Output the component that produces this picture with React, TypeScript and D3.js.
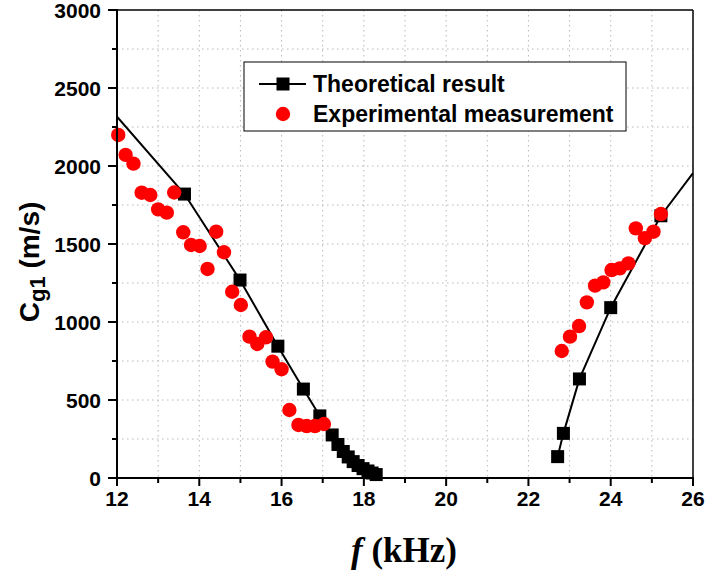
import React from "react";
import * as d3 from "d3";

// Theoretical result, left branch (line-start point at f = 12 carries no marker)
const theoryLeftF = [12, 13.64, 14.99, 15.91, 16.53, 16.93, 17.23, 17.37, 17.5, 17.62, 17.74, 17.86, 17.98, 18.1, 18.2, 18.3];
const theoryLeftV = [2316, 1820, 1269, 845, 570, 398, 276, 215, 170, 135, 105, 80, 60, 45, 32, 22];
// Theoretical result, right branch (line-end point at f = 26 carries no marker)
const theoryRightF = [22.71, 22.85, 23.24, 24.0, 25.22, 26];
const theoryRightV = [137, 286, 635, 1092, 1681, 1955];

// Experimental measurement
const expF = [12.03, 12.21, 12.4, 12.6, 12.81, 13.0, 13.21, 13.39, 13.61, 13.8, 14.01, 14.2, 14.41, 14.6, 14.8, 15.01, 15.22, 15.41, 15.62, 15.78, 16.0, 16.19, 16.41, 16.61, 16.81, 17.03,
  22.81, 23.01, 23.23, 23.42, 23.62, 23.82, 24.02, 24.22, 24.43, 24.61, 24.83, 25.04, 25.22];
const expV = [2199, 2071, 2015, 1829, 1814, 1722, 1701, 1830, 1575, 1494, 1487, 1340, 1579, 1447, 1194, 1109, 906, 859, 902, 746, 697, 436, 340, 333, 333, 346,
  814, 906, 974, 1126, 1233, 1254, 1333, 1344, 1376, 1600, 1537, 1579, 1692];

const xMajorTicks = [12, 14, 16, 18, 20, 22, 24, 26];
const xMinorTicks = [13, 15, 17, 19, 21, 23, 25];
const yMajorTicks = [0, 500, 1000, 1500, 2000, 2500, 3000];
const yMinorTicks = [250, 750, 1250, 1750, 2250, 2750];

const legendLabels = ["Theoretical result", "Experimental measurement"];

const W = 707, H = 577;
const L = 117, R = 693, T = 10, B = 478;

export default function App() {
  const x = d3.scaleLinear().domain([12, 26]).range([L, R]);
  const y = d3.scaleLinear().domain([0, 3000]).range([B, T]);
  const line = d3.line<[number, number]>().x(d => x(d[0])).y(d => y(d[1]));
  const left: [number, number][] = theoryLeftF.map((f, i) => [f, theoryLeftV[i]]);
  const right: [number, number][] = theoryRightF.map((f, i) => [f, theoryRightV[i]]);
  const isEdge = (f: number) => f <= 12 || f >= 26;
  const sq = 13;
  const font = "'Liberation Sans', Arial, sans-serif";
  const gridX = [...xMajorTicks, ...xMinorTicks].filter(v => v > 12 && v < 26);
  const gridY = [...yMajorTicks, ...yMinorTicks].filter(v => v > 0 && v < 3000);

  return (
    <svg width={W} height={H} style={{ position: "absolute", left: 0, top: 0, background: "#fff" }}>
      <defs>
        <clipPath id="plotclip">
          <rect x={L} y={T} width={R - L} height={B - T} />
        </clipPath>
      </defs>
      {/* grid */}
      {gridX.map(v => (
        <line key={"gx" + v} x1={x(v)} x2={x(v)} y1={T} y2={B} stroke="#b8b8b8" strokeWidth={1} strokeDasharray="1.5,3.5" />
      ))}
      {gridY.map(v => (
        <line key={"gy" + v} x1={L} x2={R} y1={y(v)} y2={y(v)} stroke="#b8b8b8" strokeWidth={1} strokeDasharray="1.5,3.5" />
      ))}
      {/* theory lines */}
      <g clipPath="url(#plotclip)">
        <path d={line(left) || ""} fill="none" stroke="#000" strokeWidth={2} />
        <path d={line(right) || ""} fill="none" stroke="#000" strokeWidth={2} />
      </g>
      {[...left, ...right].filter(d => !isEdge(d[0])).map((d, i) => (
        <rect key={"s" + i} x={x(d[0]) - sq / 2} y={y(d[1]) - sq / 2} width={sq} height={sq} fill="#000" />
      ))}
      {/* experimental */}
      {expF.map((f, i) => (
        <circle key={"c" + i} cx={x(f)} cy={y(expV[i])} r={7.2} fill="#ff0000" />
      ))}
      {/* frame */}
      <line x1={L} x2={R} y1={T} y2={T} stroke="#000" strokeWidth={1.5} />
      <line x1={R} x2={R} y1={T} y2={B} stroke="#000" strokeWidth={1.5} />
      <line x1={L} x2={L} y1={T - 1} y2={B + 1} stroke="#000" strokeWidth={2} />
      <line x1={L - 1} x2={R + 1} y1={B} y2={B} stroke="#000" strokeWidth={2} />
      {/* ticks */}
      {xMajorTicks.map(v => (
        <g key={"xt" + v}>
          <line x1={x(v)} x2={x(v)} y1={B} y2={B + 8} stroke="#000" strokeWidth={2} />
          <text x={x(v)} y={506} textAnchor="middle" fontFamily={font} fontWeight="bold" fontSize={21}>{v}</text>
        </g>
      ))}
      {xMinorTicks.map(v => (
        <line key={"xm" + v} x1={x(v)} x2={x(v)} y1={B} y2={B + 5} stroke="#000" strokeWidth={2} />
      ))}
      {yMajorTicks.map(v => (
        <g key={"yt" + v}>
          <line x1={L - 9} x2={L} y1={y(v)} y2={y(v)} stroke="#000" strokeWidth={2} />
          <text x={101} y={y(v) + 7.5} textAnchor="end" fontFamily={font} fontWeight="bold" fontSize={21}>{v}</text>
        </g>
      ))}
      {yMinorTicks.map(v => (
        <line key={"ym" + v} x1={L - 5} x2={L} y1={y(v)} y2={y(v)} stroke="#000" strokeWidth={2} />
      ))}
      {/* axis titles */}
      <text transform="translate(39,262) rotate(-90)" textAnchor="middle" fontFamily={font} fontWeight="bold" fontSize={28}>
        C<tspan fontSize={22} dy={6}>g1</tspan><tspan dy={-6}> (m/s)</tspan>
      </text>
      <text x={404} y={562} textAnchor="middle" fontFamily="'Liberation Serif', 'Times New Roman', serif" fontWeight="bold" fontSize={35}>
        <tspan fontStyle="italic">f</tspan> (kHz)
      </text>
      {/* legend */}
      <rect x={244} y={62} width={382} height={69} fill="#fff" stroke="#000" strokeWidth={1} />
      <line x1={259} x2={306} y1={84} y2={84} stroke="#000" strokeWidth={2} />
      <rect x={283 - sq / 2} y={84 - sq / 2} width={sq} height={sq} fill="#000" />
      <circle cx={283} cy={114} r={7.2} fill="#ff0000" />
      <text x={313} y={92} fontFamily={font} fontWeight="bold" fontSize={23}>{legendLabels[0]}</text>
      <text x={313} y={122} fontFamily={font} fontWeight="bold" fontSize={23}>{legendLabels[1]}</text>
    </svg>
  );
}
